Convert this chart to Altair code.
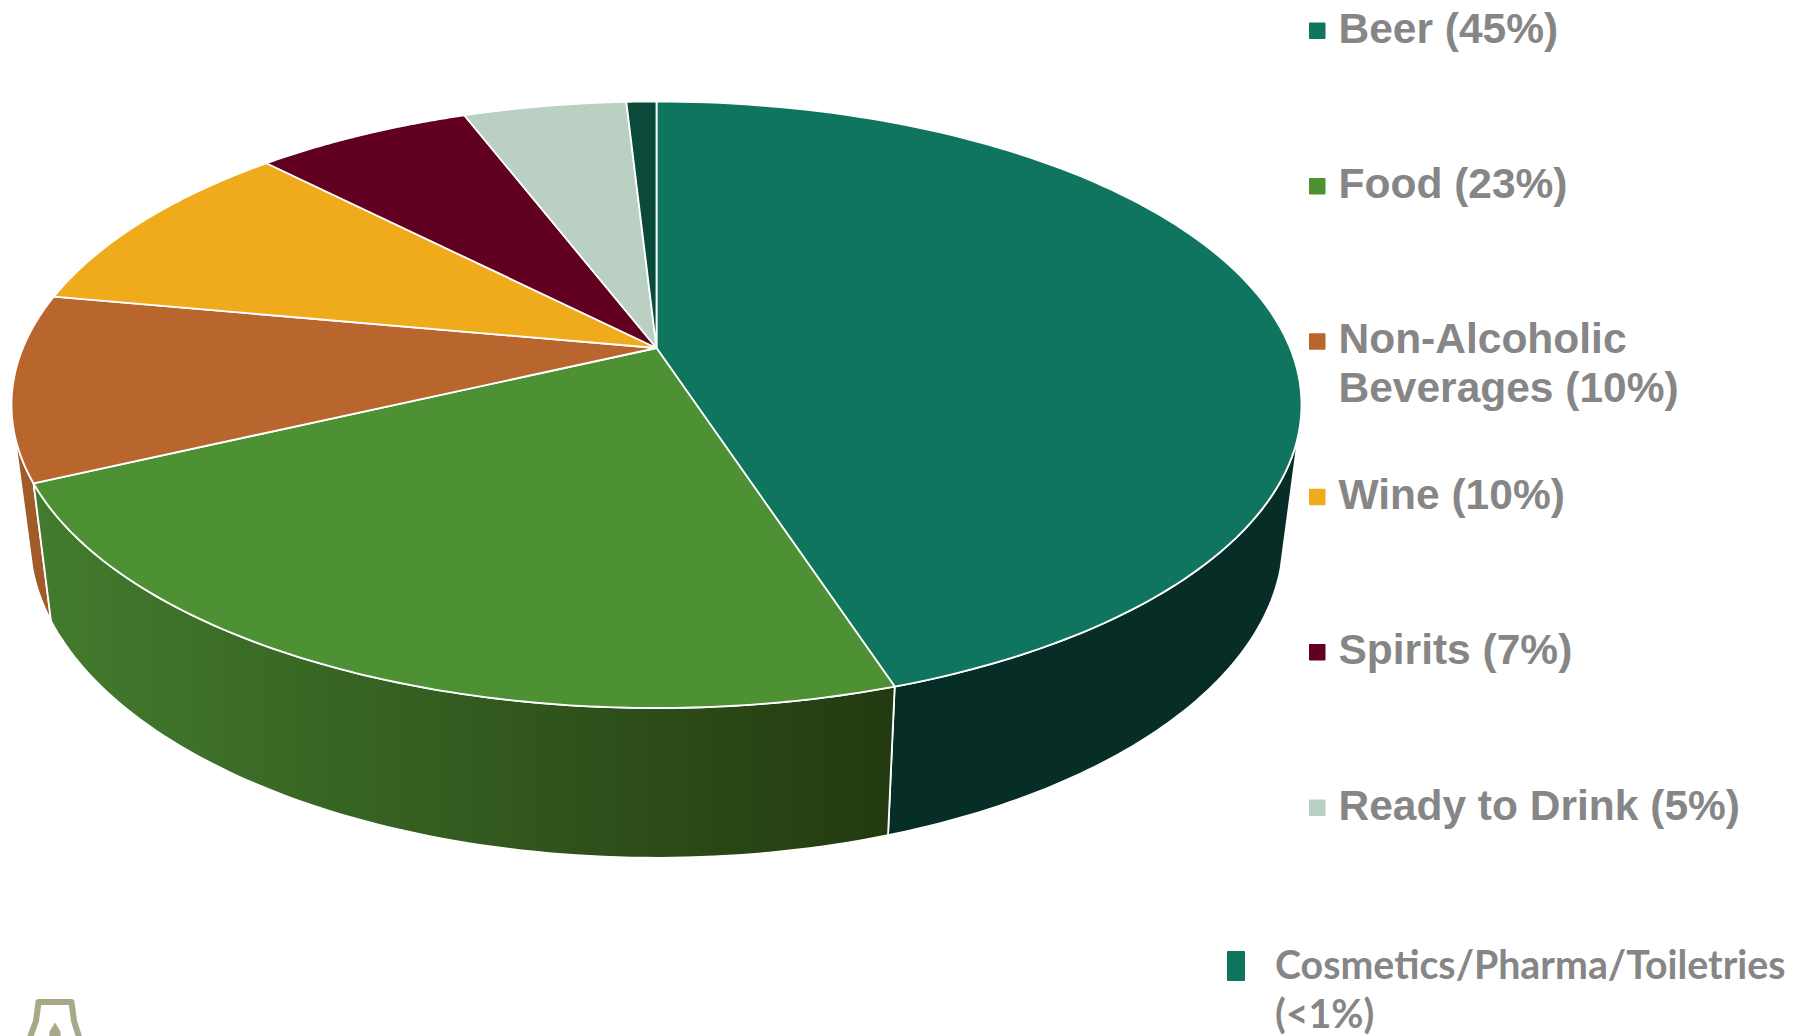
import numpy as np
import pandas as pd
import altair as alt

# Category shares in percent, clockwise from twelve o'clock
categories = ["Beer", "Food", "Non-Alcoholic Beverages", "Wine", "Spirits", "Ready to Drink", "Cosmetics/Pharma/Toiletries"]
shares = [45.0, 23.0, 9.9, 9.8, 6.5, 4.9, 0.9]
top_colors = ["#10755f", "#4e9135", "#b8662e", "#f0ab1c", "#610020", "#b9d0c3", "#0a4a3a"]

legend_lines = [["Beer (45%)"], ["Food (23%)"], ["Non-Alcoholic", "Beverages (10%)"], ["Wine (10%)"], ["Spirits (7%)"], ["Ready to Drink (5%)"]]
legend_colors = top_colors[:6]
footnote_lines = ["Cosmetics/Pharma/Toiletries", "(<1%)"]
footnote_color = "#10755f"

W, H = 1806, 1036
X_SCALE = alt.Scale(domain=[0, W], range=[0, W], nice=False, zero=False)
Y_SCALE = alt.Scale(domain=[0, H], range=[0, H], nice=False, zero=False)

# Tilted disc: a circle seen in perspective, with its centre at the apex of all slices
APEX_X, APEX_Y = 656.5, 348.0
FAR, NEAR, HALF_WIDTH = 246.5, 360.0, 645.0
PERSPECTIVE = (NEAR - FAR) / (NEAR + FAR)
DEPTH = FAR * (1 + PERSPECTIVE)
SPREAD = HALF_WIDTH * np.sqrt(1 - PERSPECTIVE ** 2)


def rim(theta_deg):
    t = np.radians(theta_deg)
    den = 1 + PERSPECTIVE * np.cos(t)
    return APEX_X + SPREAD * np.sin(t) / den, APEX_Y - DEPTH * np.cos(t) / den


def base(theta_deg):
    x, y = rim(theta_deg)
    return APEX_X + 0.972 * (x - APEX_X), 1.055 * (y - APEX_Y) + 478.0


def polygon(xs, ys):
    return pd.DataFrame({"x": xs, "y": ys, "seq": np.arange(len(xs))})


def filled(df, fill, stroke="white", width=1.8):
    return alt.Chart(df).mark_line(fill=fill, stroke=stroke, strokeWidth=width, strokeJoin="round").encode(
        x=alt.X("x:Q", scale=X_SCALE, axis=None),
        y=alt.Y("y:Q", scale=Y_SCALE, axis=None),
        order="seq:Q",
    )


def wall(a, b, fill):
    th = np.linspace(a, b, 80)
    tx, ty = rim(th)
    bx, by = base(th[::-1])
    return filled(polygon(np.r_[tx, bx, tx[:1]], np.r_[ty, by, ty[:1]]), fill)


edges = np.cumsum([0] + shares) / sum(shares) * 360.0
layers = []

# Visible side walls, back to front
layers.append(wall(106.0, edges[1], "#062e27"))
layers.append(wall(edges[2], 254.0, "#a25a28"))
layers.append(wall(edges[1], edges[2], alt.Gradient(
    gradient="linear", x1=1, y1=0.5, x2=0, y2=0.5,
    stops=[alt.GradientStop(color="#233a10", offset=0), alt.GradientStop(color="#437c2e", offset=1)],
)))

# Top faces
for i, color in enumerate(top_colors):
    th = np.linspace(edges[i], edges[i + 1], 120)
    rx, ry = rim(th)
    layers.append(filled(polygon(np.r_[APEX_X, rx, APEX_X], np.r_[APEX_Y, ry, APEX_Y]), color))

# Legend rows
ROW_STEP, FIRST_BASELINE, LINE_GAP = 155.4, 42.5, 49.0
markers, texts = [], []
for i, lines in enumerate(legend_lines):
    base_y = FIRST_BASELINE + i * ROW_STEP
    markers.append({"x": 1309.0, "x2": 1325.5, "y": base_y - 20.0, "y2": base_y - 3.5, "c": legend_colors[i]})
    for j, line in enumerate(lines):
        texts.append({"x": 1338.5, "y": base_y + j * LINE_GAP, "t": line})
markers.append({"x": 1227.0, "x2": 1245.0, "y": 951.0, "y2": 981.0, "c": footnote_color})

layers.append(alt.Chart(pd.DataFrame(markers)).mark_rect(cornerRadius=1).encode(
    x=alt.X("x:Q", scale=X_SCALE, axis=None), x2="x2:Q",
    y=alt.Y("y:Q", scale=Y_SCALE, axis=None), y2="y2:Q",
    fill=alt.Fill("c:N", scale=None),
))
layers.append(alt.Chart(pd.DataFrame(texts)).mark_text(
    font="Liberation Sans", fontWeight="bold", fontSize=42.5, align="left", baseline="alphabetic", color="#868686",
).encode(
    x=alt.X("x:Q", scale=X_SCALE, axis=None),
    y=alt.Y("y:Q", scale=Y_SCALE, axis=None),
    text="t:N",
))
layers.append(alt.Chart(pd.DataFrame({"x": [1275.0, 1275.0], "y": [978.5, 1027.5], "t": footnote_lines})).mark_text(
    font="Lato", fontWeight="bold", fontSize=39.3, align="left", baseline="alphabetic", color="#868686",
).encode(
    x=alt.X("x:Q", scale=X_SCALE, axis=None),
    y=alt.Y("y:Q", scale=Y_SCALE, axis=None),
    text="t:N",
))

# Corner emblem, cut off by the page edge
emblem = polygon([29.0, 36.0, 38.5, 71.5, 74.0, 80.0], [1040.0, 1021.0, 1002.0, 1002.0, 1021.0, 1040.0])
layers.append(alt.Chart(emblem).mark_line(stroke="#a9a98a", strokeWidth=6, strokeJoin="round").encode(
    x=alt.X("x:Q", scale=X_SCALE, axis=None),
    y=alt.Y("y:Q", scale=Y_SCALE, axis=None),
    order="seq:Q",
))
layers.append(filled(polygon([55.0, 60.0, 61.0, 49.0, 50.0, 55.0], [1023.0, 1031.0, 1040.0, 1040.0, 1031.0, 1023.0]), "#a9a98a", "#a9a98a", 0.5))

chart = alt.layer(*layers).properties(
    width=W, height=H, padding=0, autosize=alt.AutoSizeParams(type="none"), background="white",
).configure_view(stroke=None)

chart.save("out.html", embed_options={"renderer": "svg", "actions": False})
